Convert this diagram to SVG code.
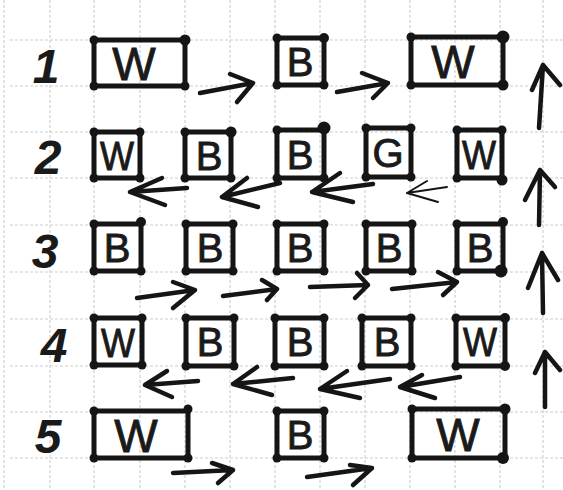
<svg xmlns="http://www.w3.org/2000/svg" width="563" height="490" viewBox="0 0 563 490">
<style>
.grid line{stroke:#cdcdcd;stroke-width:1.1;stroke-dasharray:3 2}
.box rect{fill:none;stroke:#151515;stroke-width:5;stroke-linejoin:round}
.box circle{fill:#151515}
.lbl{font-family:"Liberation Sans",Arial,sans-serif;font-size:40px;fill:#1a1a1a;stroke:#1a1a1a;stroke-width:0.9;text-anchor:middle}
.lbl.wide{font-size:46px}
.row{font-family:"Liberation Sans",Arial,sans-serif;font-size:48px;font-weight:bold;font-style:italic;fill:#1a1a1a;text-anchor:middle}
.conn path{fill:none;stroke:#151515;stroke-width:4.5;stroke-linecap:round;stroke-linejoin:round}
.conn path.thin{stroke-width:2}
</style>
<rect width="563" height="490" fill="#ffffff"/>
<g class="grid">
<line x1="4" y1="0" x2="4" y2="490"/><line x1="50" y1="0" x2="50" y2="490"/><line x1="94" y1="0" x2="94" y2="490"/><line x1="140" y1="0" x2="140" y2="490"/><line x1="185" y1="0" x2="185" y2="490"/><line x1="230" y1="0" x2="230" y2="490"/><line x1="275" y1="0" x2="275" y2="490"/><line x1="320" y1="0" x2="320" y2="490"/><line x1="365" y1="0" x2="365" y2="490"/><line x1="410" y1="0" x2="410" y2="490"/><line x1="455" y1="0" x2="455" y2="490"/><line x1="500" y1="0" x2="500" y2="490"/><line x1="543" y1="0" x2="543" y2="490"/>
<line x1="10" y1="40" x2="563" y2="40"/><line x1="10" y1="86" x2="563" y2="86"/><line x1="10" y1="132" x2="563" y2="132"/><line x1="10" y1="178" x2="563" y2="178"/><line x1="10" y1="225" x2="563" y2="225"/><line x1="10" y1="272" x2="563" y2="272"/><line x1="10" y1="319" x2="563" y2="319"/><line x1="10" y1="366" x2="563" y2="366"/><line x1="10" y1="412" x2="563" y2="412"/><line x1="10" y1="458" x2="563" y2="458"/>
</g>
<g id="row-labels">
<text class="row" x="46" y="83">1</text>
<text class="row" x="48" y="174">2</text>
<text class="row" x="45" y="268">3</text>
<text class="row" x="54" y="362">4</text>
<text class="row" x="48" y="453">5</text>
</g>
<g id="r1c1" class="box"><rect x="94" y="40" width="91" height="46"/><circle cx="94" cy="40" r="4.5"/><circle cx="185" cy="40" r="5.5"/><circle cx="94" cy="86" r="4.5"/><circle cx="185" cy="86" r="4.5"/><text class="lbl wide" x="134" y="80">W</text></g>
<g id="r1c3" class="box"><rect x="277" y="38" width="47" height="47"/><circle cx="277" cy="38" r="4.5"/><circle cx="324" cy="38" r="5"/><circle cx="277" cy="85" r="4.5"/><circle cx="324" cy="85" r="4.5"/><text class="lbl" x="300" y="76">B</text></g>
<g id="r1c5" class="box"><rect x="411" y="37" width="92" height="48"/><circle cx="411" cy="37" r="4.5"/><circle cx="503" cy="37" r="6.5"/><circle cx="411" cy="85" r="4.5"/><circle cx="503" cy="85" r="5.5"/><text class="lbl wide" x="453" y="78">W</text></g>

<g id="r2c1" class="box"><rect x="94" y="132" width="46" height="46"/><circle cx="94" cy="132" r="4.5"/><circle cx="140" cy="132" r="4.5"/><circle cx="94" cy="178" r="4.5"/><circle cx="140" cy="178" r="4.5"/><text class="lbl" x="117" y="170" textLength="34" lengthAdjust="spacingAndGlyphs">W</text></g>
<g id="r2c2" class="box"><rect x="185" y="132" width="46" height="46"/><circle cx="185" cy="132" r="4.5"/><circle cx="231" cy="132" r="5.5"/><circle cx="185" cy="178" r="4.5"/><circle cx="231" cy="178" r="4.5"/><text class="lbl" x="209" y="170">B</text></g>
<g id="r2c3" class="box"><rect x="277" y="130" width="47" height="48"/><circle cx="277" cy="130" r="4.5"/><circle cx="324" cy="128" r="6.5"/><circle cx="277" cy="178" r="4.5"/><circle cx="324" cy="178" r="4.5"/><text class="lbl" x="300" y="169">B</text></g>
<g id="r2c4" class="box"><rect x="366" y="128" width="45" height="49"/><circle cx="366" cy="128" r="4.5"/><circle cx="411" cy="128" r="4.5"/><circle cx="366" cy="177" r="4.5"/><circle cx="411" cy="177" r="4.5"/><text class="lbl" x="388" y="167">G</text></g>
<g id="r2c5" class="box"><rect x="457" y="130" width="45" height="48"/><circle cx="457" cy="130" r="4.5"/><circle cx="502" cy="130" r="4.5"/><circle cx="457" cy="178" r="4.5"/><circle cx="502" cy="180" r="5.5"/><text class="lbl" x="479" y="169" textLength="34" lengthAdjust="spacingAndGlyphs">W</text></g>

<g id="r3c1" class="box"><rect x="94" y="224" width="47" height="47"/><circle cx="94" cy="224" r="4.5"/><circle cx="141" cy="222" r="5"/><circle cx="94" cy="271" r="4.5"/><circle cx="141" cy="271" r="4.5"/><text class="lbl" x="117" y="262">B</text></g>
<g id="r3c2" class="box"><rect x="186" y="224" width="47" height="47"/><circle cx="186" cy="224" r="4.5"/><circle cx="233" cy="224" r="4.5"/><circle cx="186" cy="271" r="4.5"/><circle cx="233" cy="271" r="4.5"/><text class="lbl" x="210" y="262">B</text></g>
<g id="r3c3" class="box"><rect x="277" y="224" width="47" height="47"/><circle cx="277" cy="224" r="4.5"/><circle cx="324" cy="224" r="4.5"/><circle cx="277" cy="271" r="4.5"/><circle cx="324" cy="271" r="4.5"/><text class="lbl" x="300" y="262">B</text></g>
<g id="r3c4" class="box"><rect x="366" y="224" width="46" height="47"/><circle cx="366" cy="224" r="4.5"/><circle cx="412" cy="224" r="4.5"/><circle cx="366" cy="271" r="4.5"/><circle cx="412" cy="271" r="4.5"/><text class="lbl" x="389" y="262">B</text></g>
<g id="r3c5" class="box"><rect x="457" y="224" width="46" height="47"/><circle cx="457" cy="224" r="4.5"/><circle cx="503" cy="222" r="5"/><circle cx="457" cy="271" r="4.5"/><circle cx="501" cy="271" r="6.5"/><text class="lbl" x="480" y="262">B</text></g>

<g id="r4c1" class="box"><rect x="94" y="318" width="48" height="47"/><circle cx="94" cy="318" r="4.5"/><circle cx="142" cy="318" r="4.5"/><circle cx="94" cy="365" r="4.5"/><circle cx="142" cy="365" r="4.5"/><text class="lbl" x="118" y="357" textLength="34" lengthAdjust="spacingAndGlyphs">W</text></g>
<g id="r4c2" class="box"><rect x="186" y="318" width="48" height="48"/><circle cx="186" cy="318" r="4.5"/><circle cx="234" cy="318" r="4.5"/><circle cx="186" cy="366" r="4.5"/><circle cx="234" cy="366" r="4.5"/><text class="lbl" x="210" y="356">B</text></g>
<g id="r4c3" class="box"><rect x="275" y="318" width="49" height="48"/><circle cx="275" cy="318" r="4.5"/><circle cx="324" cy="318" r="4.5"/><circle cx="275" cy="366" r="4.5"/><circle cx="324" cy="366" r="4.5"/><text class="lbl" x="300" y="356">B</text></g>
<g id="r4c4" class="box"><rect x="362" y="318" width="49" height="48"/><circle cx="362" cy="318" r="4.5"/><circle cx="411" cy="318" r="4.5"/><circle cx="362" cy="366" r="4.5"/><circle cx="411" cy="366" r="4.5"/><text class="lbl" x="387" y="356">B</text></g>
<g id="r4c5" class="box"><rect x="456" y="318" width="49" height="48"/><circle cx="456" cy="318" r="4.5"/><circle cx="505" cy="318" r="5"/><circle cx="456" cy="366" r="4.5"/><circle cx="505" cy="366" r="5"/><text class="lbl" x="480" y="356" textLength="34" lengthAdjust="spacingAndGlyphs">W</text></g>

<g id="r5c1" class="box"><rect x="94" y="411" width="94" height="47"/><circle cx="94" cy="411" r="4.5"/><circle cx="188" cy="409" r="4.5"/><circle cx="94" cy="458" r="4.5"/><circle cx="188" cy="458" r="4.5"/><text class="lbl wide" x="136" y="452">W</text></g>
<g id="r5c3" class="box"><rect x="277" y="411" width="47" height="47"/><circle cx="277" cy="411" r="4.5"/><circle cx="324" cy="411" r="4.5"/><circle cx="277" cy="458" r="4.5"/><circle cx="324" cy="458" r="4.5"/><text class="lbl" x="300" y="449">B</text></g>
<g id="r5c5" class="box"><rect x="412" y="409" width="93" height="49"/><circle cx="412" cy="409" r="4.5"/><circle cx="505" cy="409" r="5.5"/><circle cx="412" cy="458" r="4.5"/><circle cx="503" cy="458" r="6"/><text class="lbl wide" x="458" y="451">W</text></g>

<g id="connectors" class="conn">
<path d="M200 93 L253 83 M230 74 L253 83 L237 102"/>
<path d="M337 92 L388 83 M362 73 L388 83 L373 98"/>
<path d="M187 188 L130 192 M162 178 L130 192 L165 205"/>
<path d="M280 183 L222 197 M247 178 L222 197 L258 207"/>
<path d="M373 184 L312 192 M340 173 L312 192 L353 202"/>
<path class="thin" d="M447 187 L407 193 M427 181 L407 193 L438 202"/>
<path d="M137 298 L195 290 M173 282 L195 290 L173 308"/>
<path d="M223 296 L277 289 M262 280 L277 289 L267 300"/>
<path d="M310 287 L368 285 M357 273 L368 285 L355 298"/>
<path d="M392 289 L457 282 M438 272 L457 282 L443 295"/>
<path d="M198 381 L145 385 M167 371 L145 385 L172 397"/>
<path d="M293 378 L233 384 M257 367 L233 384 L272 395"/>
<path d="M390 379 L320 389 M347 371 L320 389 L360 398"/>
<path d="M460 377 L400 387 M422 375 L400 387 L435 398"/>
<path d="M173 473 L233 470 M212 463 L233 470 L218 483"/>
<path d="M307 477 L372 468 M350 465 L372 468 L353 485"/>
<path d="M539 128 L543 65 M532 90 L543 65 L560 85"/>
<path d="M539 225 L540 170 M525 200 L540 170 L555 187"/>
<path d="M543 313 L542 253 M528 288 L542 253 L558 280"/>
<path d="M545 407 L545 352 M535 373 L545 352 L560 370"/>
</g>
</svg>
